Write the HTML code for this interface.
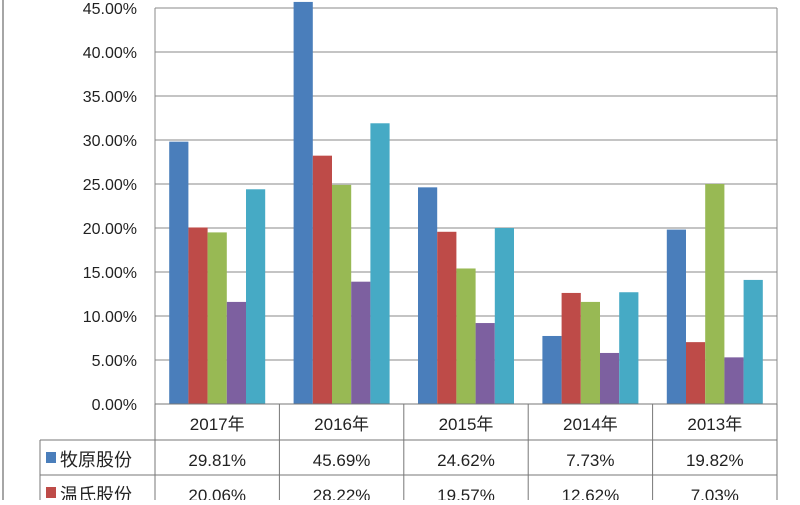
<!DOCTYPE html>
<html><head><meta charset="utf-8">
<style>
body{margin:0;background:#fff;}
svg text{font-family:"Liberation Sans","Noto Sans CJK SC",sans-serif;fill:#222;}
</style></head>
<body>
<svg id="chart" width="800" height="500" viewBox="0 0 800 500" xmlns="http://www.w3.org/2000/svg">
<rect x="0" y="0" width="800" height="500" fill="#fff"/>
<line x1="3" y1="0" x2="3" y2="500" stroke="#888" stroke-width="1.5"/>
<g id="grid"></g><g id="bars"></g><g id="table"></g><g id="ylabels"></g>
</svg>
<script>
const categories=["2017年","2016年","2015年","2014年","2013年"];
const seriesNames=["牧原股份","温氏股份","系列3","系列4","系列5"];
const s1=[29.81,45.69,24.62,7.73,19.82];
const s2=[20.06,28.22,19.57,12.62,7.03];
const s3=[19.5,24.9,15.4,11.6,25.0];
const s4=[11.6,13.9,9.2,5.8,5.3];
const s5=[24.4,31.9,20.0,12.7,14.1];
const yTicks=[0,5,10,15,20,25,30,35,40,45];
const series=[s1,s2,s3,s4,s5];
const colors=["#4a7ebb","#be4b48","#98b954","#7d60a0","#46aac5"];
const NS="http://www.w3.org/2000/svg";
const L=155,R=777,T=8,B=404,MAX=45;
const y=v=>B-(v/MAX)*(B-T);
const cw=(R-L)/categories.length;
const x=i=>L+i*cw;
function mk(tag,attrs,parent){const e=document.createElementNS(NS,tag);for(const k in attrs)e.setAttribute(k,attrs[k]);parent.appendChild(e);return e;}
const grid=document.getElementById('grid'),bars=document.getElementById('bars'),tbl=document.getElementById('table'),yl=document.getElementById('ylabels');
yTicks.forEach(t=>{
  const g=mk('line',{x1:L,x2:R,y1:y(t),y2:y(t),stroke:'#888','stroke-width':1},grid);
  
  
  const tx=mk('text',{x:L-18,y:y(t)+6,'text-anchor':'end','font-size':16},yl);
  
  
  tx.textContent=t.toFixed(2)+'%';
});
mk('line',{x1:L,x2:L,y1:T,y2:B,stroke:'#888'},grid);
mk('line',{x1:R,x2:R,y1:T,y2:B,stroke:'#888'},grid);
const bw=19.2;
categories.forEach((c,i)=>{
  const start=x(i)+(cw-5*bw)/2;
  series.forEach((s,j)=>{
    const r=mk('rect',{x:start+j*bw,y:y(s[i]),width:bw,height:B-y(s[i]),fill:colors[j]},bars);
    
    
  });
});
// table
const rows=[404,440,475,510];
mk('line',{x1:L,x2:R,y1:404,y2:404,stroke:'#777'},tbl);
mk('line',{x1:40,x2:R,y1:440,y2:440,stroke:'#777'},tbl);
mk('line',{x1:40,x2:R,y1:475,y2:475,stroke:'#777'},tbl);
mk('line',{x1:40,x2:40,y1:440,y2:500,stroke:'#777'},tbl);
for(let i=0;i<=categories.length;i++)mk('line',{x1:x(i),x2:x(i),y1:404,y2:500,stroke:'#777'},tbl);
categories.forEach((c,i)=>{
  const t=mk('text',{x:x(i)+cw/2,y:430,'text-anchor':'middle','font-size':17},tbl);
  
  
  t.textContent=c;
});
[s1,s2].forEach((s,j)=>{
  const ry=rows[j+1];
  const k=mk('rect',{x:46,y:ry+12,width:10,height:11,fill:colors[j]},tbl);
  
  
  const n=mk('text',{x:60,y:ry+26,'font-size':18},tbl);
  
  
  n.textContent=seriesNames[j];
  s.forEach((v,i)=>{
    const t=mk('text',{x:x(i)+cw/2,y:ry+26,'text-anchor':'middle','font-size':17},tbl);
    
    
    t.textContent=v.toFixed(2)+'%';
  });
});
</script>
</body></html>
